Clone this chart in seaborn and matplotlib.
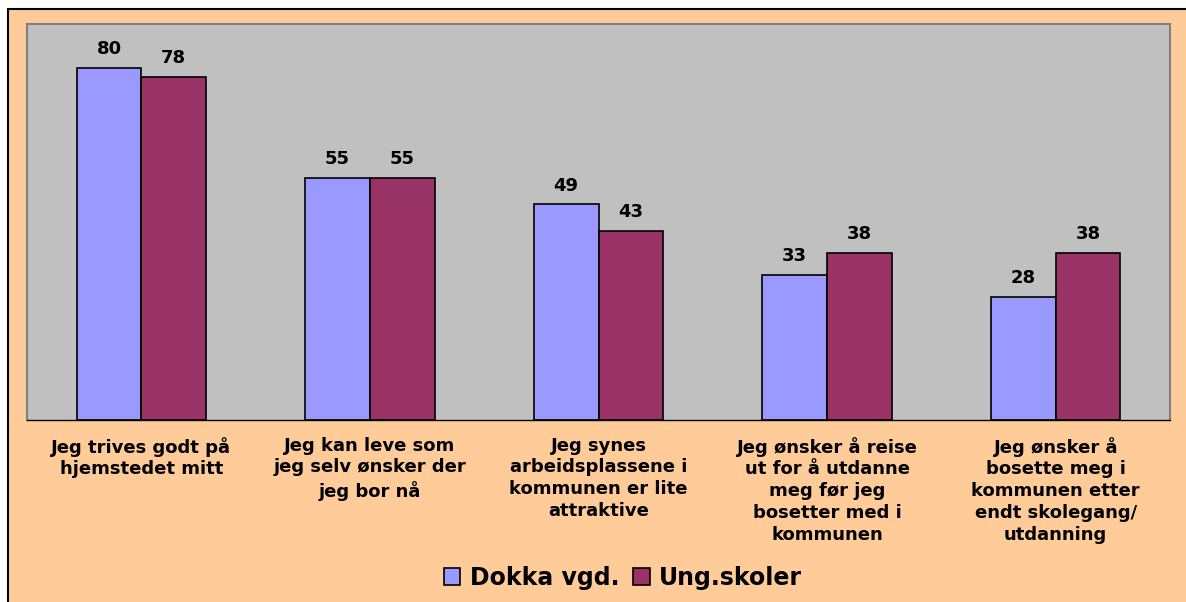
import pandas as pd
import matplotlib.pyplot as plt
import seaborn as sns
from matplotlib.patches import Rectangle
from matplotlib.ticker import FixedLocator

categories = [
    "Jeg trives godt på\nhjemstedet mitt",
    "Jeg kan leve som\njeg selv ønsker der\njeg bor nå",
    "Jeg synes\narbeidsplassene i\nkommunen er lite\nattraktive",
    "Jeg ønsker å reise\nut for å utdanne\nmeg før jeg\nbosetter med i\nkommunen",
    "Jeg ønsker å\nbosette meg i\nkommunen etter\nendt skolegang/\nutdanning",
]
dokka = [80, 55, 49, 33, 28]
ung = [78, 55, 43, 38, 38]
series = ["Dokka vgd.", "Ung.skoler"]
colors = ["#9999FF", "#993366"]

df = pd.DataFrame({
    "kategori": categories * 2,
    "verdi": dokka + ung,
    "gruppe": [series[0]] * len(categories) + [series[1]] * len(categories),
})

sns.set_style("white")
plt.rcParams["font.family"] = ["DejaVu Sans"]
plt.rcParams["font.weight"] = "bold"
plt.rcParams["text.color"] = "black"

W, H = 1186, 602
fig = plt.figure(figsize=(W / 100, H / 100), dpi=100)
fig.patch.set_facecolor("white")
# peach frame (only left and top edges visible)
frame = Rectangle((8 / W, -0.05), 1.1, (H - 9) / H + 0.05, transform=fig.transFigure,
                  facecolor="#FFCC99", edgecolor="black", linewidth=1.5, zorder=-10)
fig.add_artist(frame)

ax = fig.add_axes([27 / W, (H - 420) / H, (1170 - 27) / W, (420 - 24) / H])
ax.set_facecolor("#C0C0C0")

sns.barplot(data=df, x="kategori", y="verdi", hue="gruppe", palette=colors,
            width=0.566, edgecolor="black", linewidth=1.2, saturation=1, ax=ax)

for cont in ax.containers:
    ax.bar_label(cont, labels=[f"{v:.0f}" for v in cont.datavalues], padding=7,
                 fontsize=13, fontweight="bold", color="black")

ax.set_ylim(0, 90)
ax.set_xlim(-0.5, len(categories) - 0.5)
ax.set_yticks([])
ax.set_xlabel("")
ax.set_ylabel("")
ax.tick_params(axis="x", which="major", length=0, pad=12, labelsize=13, labelcolor="black")
ax.xaxis.set_minor_locator(FixedLocator([i - 0.5 for i in range(len(categories) + 1)]))
ax.tick_params(axis="x", which="minor", length=6, width=1, color="black", direction="out")
for lab in ax.get_xticklabels():
    lab.set_fontweight("bold")
    lab.set_linespacing(1.27)
    lab.set_verticalalignment("top")

for s in ["left", "top", "right"]:
    ax.spines[s].set_color("#808080")
    ax.spines[s].set_linewidth(1.5)
ax.spines["bottom"].set_color("black")
ax.spines["bottom"].set_linewidth(1)

handles, labels = ax.get_legend_handles_labels()
ax.legend_.remove()
fig.legend(handles, labels, loc="center", bbox_to_anchor=(623 / W, (H - 578) / H), ncol=2,
           frameon=False, prop={"weight": "bold", "size": 17}, labelcolor="black",
           handlelength=0.7, handleheight=0.7, handletextpad=0.4, columnspacing=0.6)

fig.savefig("out.png", dpi=100, facecolor=fig.get_facecolor())
